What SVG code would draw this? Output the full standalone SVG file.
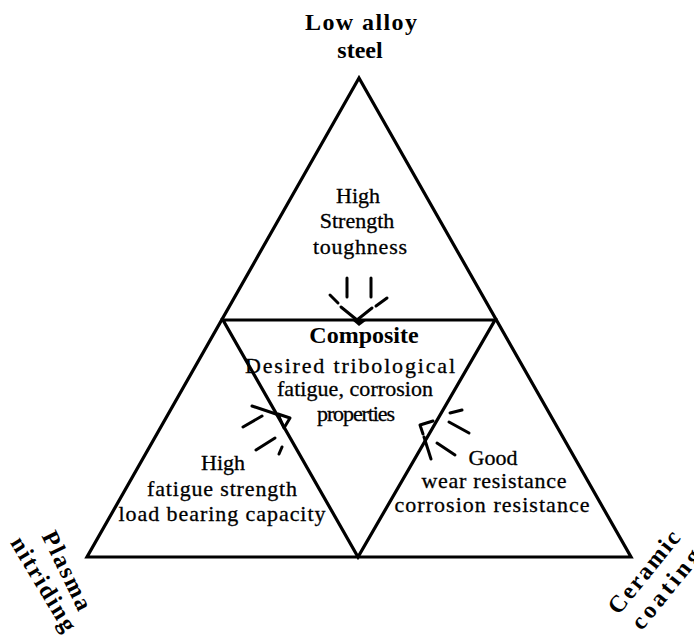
<svg xmlns="http://www.w3.org/2000/svg" width="694" height="637" viewBox="0 0 694 637">
<style>
.edge{fill:none;stroke:#000;stroke-width:3.2;stroke-linejoin:miter}
.ray{fill:none;stroke:#000;stroke-width:3;stroke-linecap:round;stroke-linejoin:round}
.t{font-family:"Liberation Serif","Times New Roman",serif;font-size:22px;fill:#000;text-anchor:middle;stroke:#000;stroke-width:0.3}
.b{font-family:"Liberation Serif","Times New Roman",serif;font-weight:bold;fill:#000;text-anchor:middle}
</style>
<rect width="694" height="637" fill="#fff"/>
<g id="connectors">
<polygon class="edge" points="359,78 87,557 631,557"/>
<polygon class="edge" points="223,320 495,320 358,557"/>
<g id="arrow-top">
<line class="ray" x1="347" y1="278" x2="347" y2="297"/>
<line class="ray" x1="371" y1="278" x2="371" y2="297"/>
<line class="ray" x1="330" y1="295" x2="338" y2="303"/>
<line class="ray" x1="387" y1="298" x2="376" y2="306"/>
<polyline class="ray" points="341,307 357,320 372,308"/>
<polygon points="352,320 367,320 359,326" fill="#000"/>
</g>
<g id="arrow-left">
<line class="ray" x1="252" y1="406" x2="276" y2="414"/>
<polygon class="ray" points="278,414 290,418 284,428"/>
<line class="ray" x1="243" y1="427" x2="262" y2="416"/>
<line class="ray" x1="256" y1="450" x2="275" y2="438"/>
<line class="ray" x1="282" y1="447" x2="279" y2="454"/>
</g>
<g id="arrow-right">
<polyline class="ray" points="433,421 420,425 423,434"/>
<line class="ray" x1="450" y1="413" x2="462" y2="410"/>
<line class="ray" x1="449" y1="422" x2="469" y2="433"/>
<line class="ray" x1="437" y1="443" x2="455" y2="455"/>
<line class="ray" x1="424" y1="437" x2="431" y2="459"/>
</g>
</g>
<g id="node-steel">
<text class="b" font-size="24" x="361" y="30" textLength="112" lengthAdjust="spacing">Low alloy</text>
<text class="b" font-size="24" x="360" y="58">steel</text>
</g>
<g id="node-top">
<text class="t" x="358" y="203">High</text>
<text class="t" x="357" y="228">Strength</text>
<text class="t" x="360" y="254" textLength="94" lengthAdjust="spacing">toughness</text>
</g>
<g id="node-composite">
<text class="b" font-size="24" x="364" y="343">Composite</text>
<text class="t" x="350" y="373" textLength="210" lengthAdjust="spacing">Desired  tribological</text>
<text class="t" x="355" y="396" textLength="156" lengthAdjust="spacing">fatigue, corrosion</text>
<text class="t" x="356" y="421" textLength="78" lengthAdjust="spacing">properties</text>
</g>
<g id="node-left">
<text class="t" x="223" y="470">High</text>
<text class="t" x="222" y="496" textLength="150" lengthAdjust="spacing">fatigue strength</text>
<text class="t" x="222" y="521" textLength="207" lengthAdjust="spacing">load bearing capacity</text>
</g>
<g id="node-right">
<text class="t" x="493" y="465">Good</text>
<text class="t" x="494" y="488" textLength="145" lengthAdjust="spacing">wear resistance</text>
<text class="t" x="492" y="512" textLength="195" lengthAdjust="spacing">corrosion resistance</text>
</g>
<g id="node-plasma">
<text class="b" font-size="24" transform="translate(60,574) rotate(64)" textLength="85" lengthAdjust="spacing">Plasma</text>
<text class="b" font-size="24" transform="translate(37,588) rotate(59)" textLength="106" lengthAdjust="spacing">nitriding</text>
</g>
<g id="node-ceramic">
<text class="b" font-size="24" transform="translate(650,577) rotate(-51)" textLength="100" lengthAdjust="spacing">Ceramic</text>
<text class="b" font-size="24" transform="translate(672,594) rotate(-51)" textLength="96" lengthAdjust="spacing">coating</text>
</g>
</svg>
